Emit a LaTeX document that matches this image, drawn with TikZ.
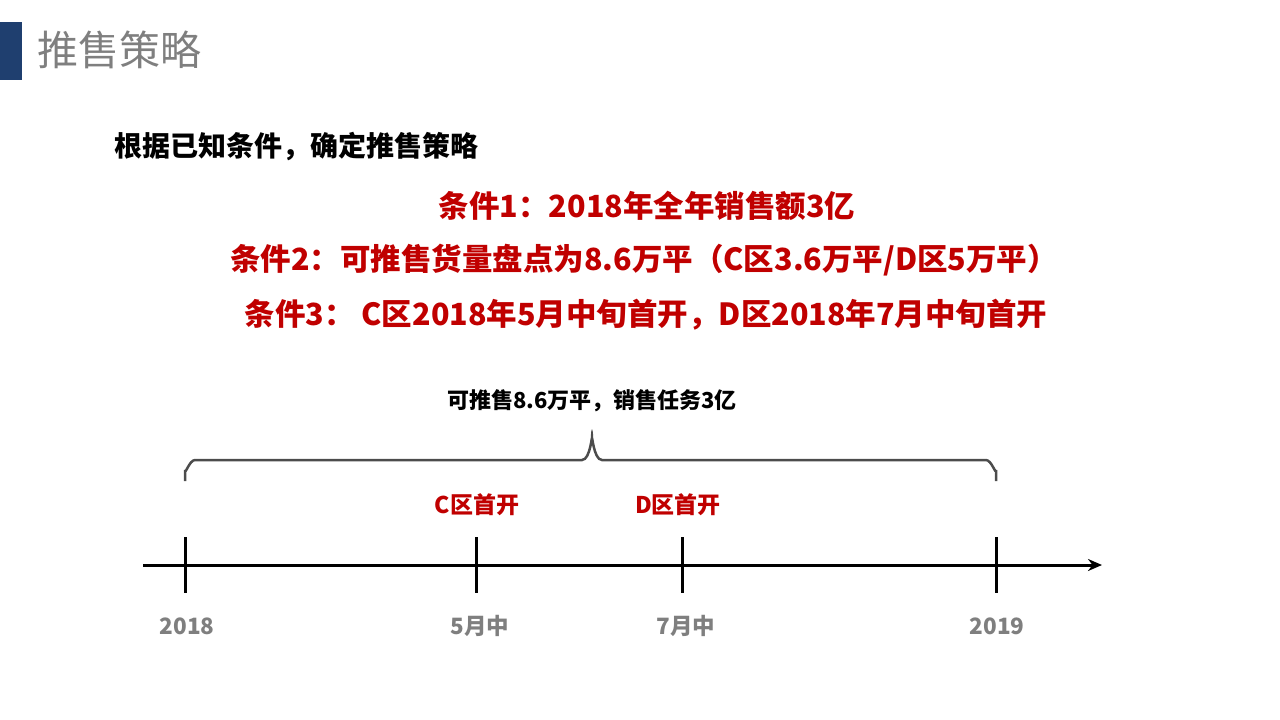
\documentclass[tikz,border=0pt]{standalone}
\usepackage{fontspec}
\setmainfont{Noto Sans CJK SC}
\usetikzlibrary{arrows.meta}
\definecolor{dred}{HTML}{C00000}
\definecolor{dblue}{HTML}{1F3F6F}
\definecolor{tgray}{HTML}{7F7F7F}
\tikzset{redtxt/.style={text=dred,font=\fontsize{30.5}{34}\selectfont\bfseries},
 tick/.style={line width=3pt},
 ylab/.style={text=tgray,font=\fontsize{22.5}{26}\selectfont\bfseries},
 zlab/.style={text=dred,font=\fontsize{23}{26}\selectfont\bfseries}}
\begin{document}
\begin{tikzpicture}[x=1pt,y=-1pt]
\useasboundingbox (0,0) rectangle (1280,720);
\fill[dblue] (0,22) rectangle (22,80);
\node[anchor=west,text=tgray,font=\fontsize{41}{45}\selectfont] (title) at (34,50) {推售策略};
\node[anchor=west,font=\fontsize{28}{32}\selectfont\bfseries] (head) at (111,147) {根据已知条件，确定推售策略};
\node[redtxt] (c1) at (647,206) {条件1：2018年全年销售额3亿};
\node[redtxt] (c2) at (644,260) {条件2：可推售货量盘点为8.6万平（C区3.6万平/D区5万平）};
\node[redtxt] (c3) at (646,315) {条件3： C区2018年5月中旬首开，D区2018年7月中旬首开};
\node[font=\fontsize{22}{25}\selectfont\bfseries] (task) at (592,401) {可推售8.6万平，销售任务3亿};
\draw[line width=2.5pt,draw=black!70] (185,481) -- (185,470) to[out=-90,in=180] (195,460) -- (582,460) to[out=0,in=90] (592,440) to[out=90,in=180] (602,460) -- (986,460) to[out=0,in=-90] (996,470) -- (996,481);
\coordinate (a0) at (143,565); \coordinate (a1) at (1102,565);
\draw[line width=3pt,-{Stealth[length=14pt,width=12pt]}] (a0) -- (a1);
\foreach \x/\n in {185/t1,476/t2,682/t3,996/t4}{
 \coordinate (\n a) at (\x,537); \coordinate (\n b) at (\x,593);
 \draw[tick] (\n a) -- (\n b);}
\node[zlab] (zc) at (477,505) {C区首开};
\node[zlab] (zd) at (678,505) {D区首开};
\node[ylab] (l1) at (187,626) {2018};
\node[ylab] (l2) at (480,626) {5月中};
\node[ylab] (l3) at (686,626) {7月中};
\node[ylab] (l4) at (997,626) {2019};
\end{tikzpicture}
\end{document}
